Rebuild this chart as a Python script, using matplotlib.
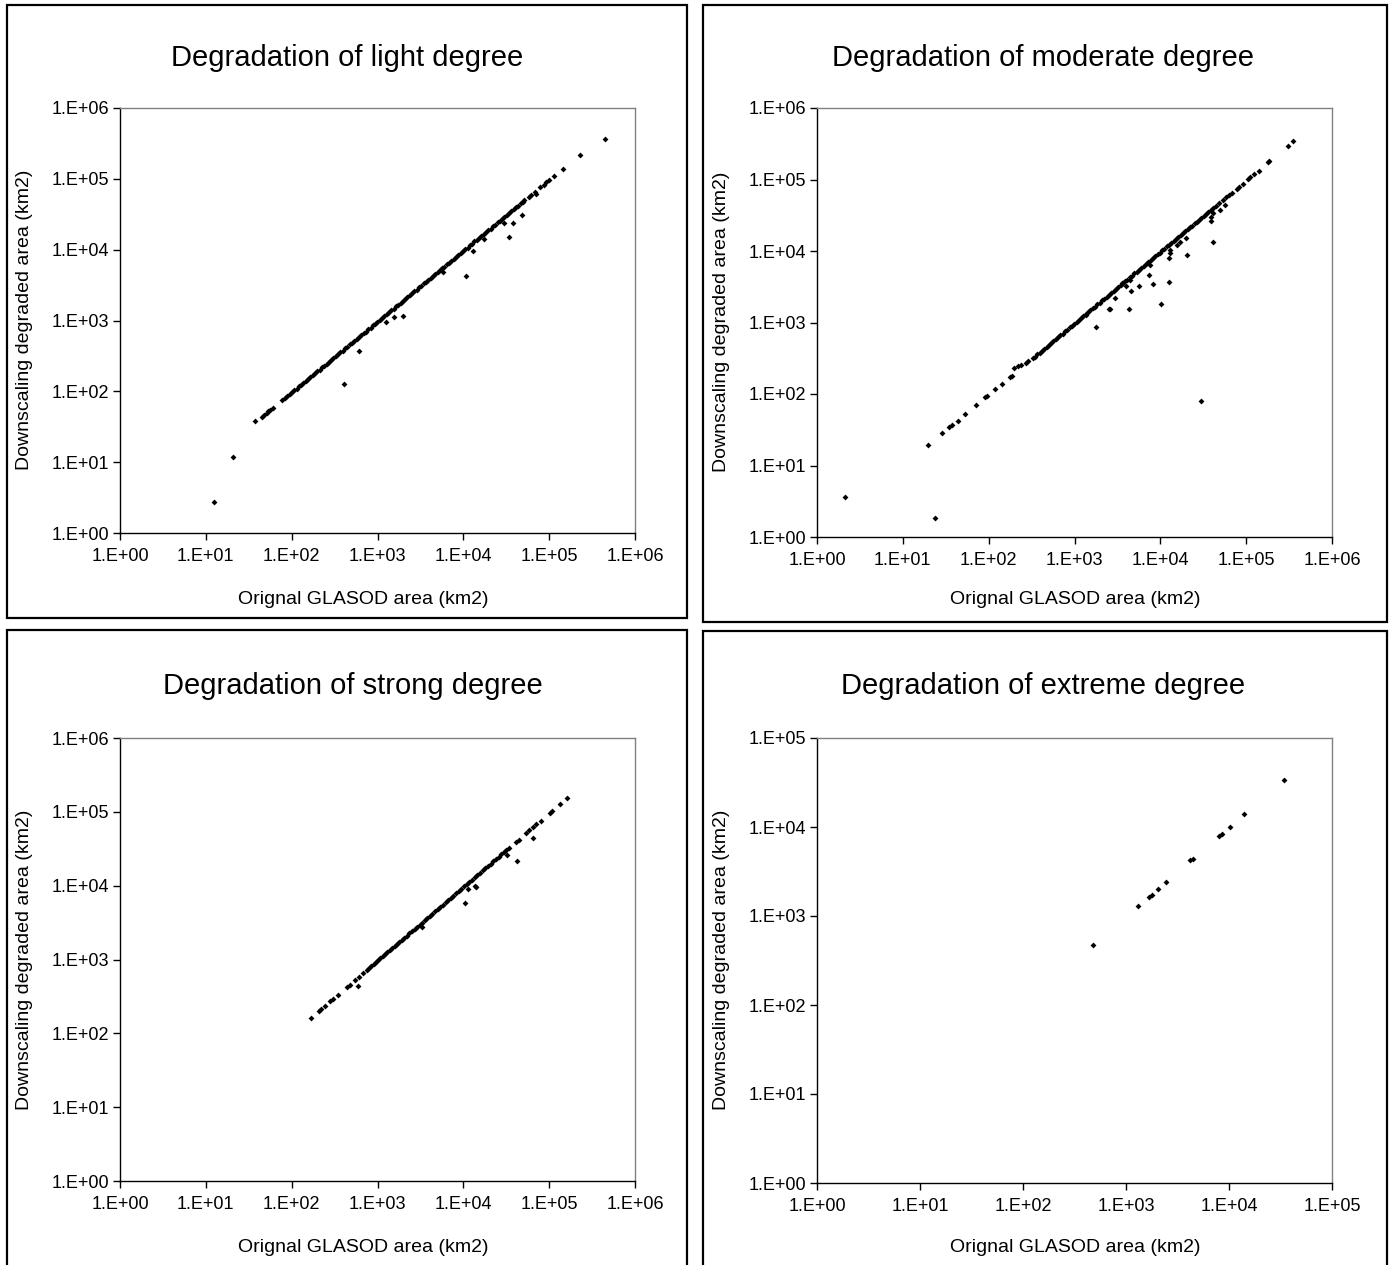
import math
import matplotlib
matplotlib.use("Agg")
import matplotlib.pyplot as plt
from matplotlib.patches import Rectangle
from matplotlib.ticker import FixedLocator, FuncFormatter, NullLocator

plt.rcParams['font.family'] = ['Liberation Sans', 'DejaVu Sans']

# ---- light degree ----
light_line_x = [78, 84, 89, 95, 101, 107, 114, 121, 129, 137,
                146, 155, 165, 176, 187, 199, 212, 225, 240, 255,
                271, 289, 307, 327, 348, 370, 394, 419, 446, 474,
                505, 537, 571, 608, 647, 688, 732, 779, 829, 882,
                938, 998, 1062, 1130, 1202, 1279, 1361, 1448, 1540, 1639,
                1744, 1855, 1974, 2100, 2234, 2377, 2529, 2691, 2863, 3046,
                3241, 3448, 3668, 3903, 4152, 4418, 4700, 5001, 5320, 5660,
                6022, 6407, 6817, 7253, 7717, 8210, 8735, 9293, 9887, 10520,
                11190, 11910, 12670, 13480, 14340, 15260, 16230, 17270, 18380, 19550,
                20800, 22130, 23550, 25050, 26650, 28360, 30170, 32100, 34150, 36330,
                38660, 41130, 43760, 46550, 49530]
light_line_y = [76, 80, 87, 92, 97, 104, 109, 118, 123, 133,
                140, 150, 158, 171, 179, 193, 203, 218, 229, 247,
                259, 280, 294, 316, 333, 358, 376, 406, 426, 459,
                482, 520, 546, 588, 618, 665, 699, 755, 792, 853,
                897, 966, 1015, 1094, 1149, 1238, 1301, 1401, 1472, 1587,
                1667, 1795, 1887, 2031, 2135, 2301, 2418, 2604, 2737, 2948,
                3098, 3337, 3506, 3777, 3969, 4276, 4493, 4840, 5086, 5478,
                5757, 6201, 6517, 7020, 7377, 7946, 8351, 8995, 9452, 10180,
                10700, 11530, 12110, 13050, 13710, 14770, 15520, 16720, 17570, 18920,
                19890, 21420, 22510, 24250, 25480, 27450, 28840, 31070, 32650, 35160,
                36960, 39800, 41830, 45060, 47350]
light_sparse_x = [12.3, 21, 37, 45, 48, 51, 53, 56, 60,
                  51100, 57900, 61900, 68100, 78700, 86600, 92600, 100000, 113000,
                  144000, 228000, 451000]
light_sparse_y = [2.75, 11.9, 38, 44, 47, 50, 52, 55, 59,
                  49800, 55800, 59800, 65500, 75600, 83000, 89000, 96000, 108000,
                  139000, 219000, 365000]
light_out_x = [402, 607, 1247, 1570, 1977, 5790, 10600, 12960, 17600, 30100,
               33800, 37900, 47800, 69400]
light_out_y = [125, 374, 942, 1120, 1169, 4900, 4250, 9600, 14200, 24100,
               15300, 24100, 30600, 60100]

# ---- moderate degree ----
mod_line_x = [325, 346, 368, 392, 417, 444, 472, 502, 534, 568,
              605, 643, 685, 728, 775, 825, 877, 934, 993, 1057,
              1125, 1197, 1273, 1355, 1442, 1534, 1632, 1737, 1848, 1966,
              2092, 2226, 2369, 2520, 2682, 2853, 3036, 3230, 3437, 3657,
              3891, 4140, 4405, 4687, 4987, 5306, 5646, 6007, 6392, 6801,
              7236, 7699, 8192, 8716, 9274, 9868, 10500, 11170, 11890, 12650,
              13460, 14320, 15240, 16210, 17250, 18350, 19530, 20780, 22110, 23520,
              25030, 26630, 28330, 30150, 32070, 34130, 36310, 38640, 41100]
mod_line_y = [316, 333, 358, 377, 405, 427, 459, 483, 519, 547,
              588, 619, 666, 701, 753, 794, 853, 899, 965, 1017,
              1094, 1152, 1238, 1304, 1402, 1476, 1587, 1672, 1797, 1892,
              2034, 2142, 2303, 2425, 2608, 2746, 2952, 3108, 3342, 3519,
              3783, 3984, 4283, 4510, 4849, 5106, 5489, 5781, 6214, 6545,
              7035, 7409, 7965, 8388, 9016, 9496, 10210, 10750, 11560, 12170,
              13090, 13780, 14820, 15600, 16770, 17660, 18990, 20000, 21500, 22630,
              24340, 25620, 27540, 29010, 31180, 32840, 35300, 37180, 39960]
mod_sparse_x = [19.8, 28.7, 34.8, 36.9, 43.8, 53.1, 71.5, 90, 94.4, 119,
                143, 178, 185, 222, 237, 269, 287,
                44200, 48700, 53600, 59000, 63700, 68100, 77200, 82600, 90800,
                105000, 112000, 125000, 140000, 181000, 183000, 307000, 348000]
mod_sparse_y = [19.2, 28.1, 34.9, 36.4, 41.9, 53.2, 70.5, 89.4, 93.3, 116,
                139, 173, 180, 245, 253, 273, 285,
                43000, 46800, 51000, 56600, 61000, 65000, 73500, 77600, 87500,
                101000, 108000, 120000, 133000, 175000, 180000, 296000, 345000]
mod_out_x = [2.1, 23.9, 196, 1370, 1780, 2490, 2610, 2960, 3580, 3940,
             4300, 4420, 4600, 5620, 7290, 7500, 8260, 10300, 12500, 12500,
             13100, 13100, 15700, 16900, 19800, 20500, 29900, 39000, 39000, 40600,
             41400, 49200, 57300]
mod_out_y = [3.67, 1.87, 232, 1270, 869, 1540, 1540, 2200, 3590, 3290,
             1540, 3870, 2770, 3190, 4650, 6300, 3470, 1830, 8000, 3670,
             10300, 9500, 12100, 13200, 15300, 8710, 80, 30300, 26300, 13200,
             33700, 37600, 44200]

# ---- strong degree ----
strong_x = [167, 208, 222, 244, 282, 304, 348, 446, 477, 551,
            606, 686, 760, 805, 850, 905, 960, 1015, 1080, 1150,
            1220, 1300, 1390, 1480, 1580, 1690, 1800, 1930, 2060, 2200,
            2350, 2520, 2700, 2890, 3090, 3310, 3550, 3800, 4080, 4370,
            4690, 5030, 5400, 5790, 6210, 6660, 7150, 7670, 8230, 8830,
            9480, 10180, 10930, 11740, 12600, 13530, 14530, 15600, 16750, 17990,
            19320, 20750, 22280, 23930, 25700, 27600, 29640, 31830, 34180,
            41500, 44000, 54200, 58500, 65600, 70800, 79500, 101000, 108000,
            134000, 160000]
strong_y = [160, 200, 214, 233, 271, 290, 334, 425, 458, 527,
            582, 656, 730, 770, 817, 866, 922, 972, 1037, 1100,
            1172, 1244, 1335, 1418, 1517, 1618, 1728, 1849, 1978, 2106,
            2256, 2414, 2592, 2768, 2966, 3170, 3408, 3640, 3917, 4186,
            4502, 4818, 5184, 5546, 5962, 6380, 6864, 7347, 7901, 8459,
            9101, 9752, 10490, 11250, 12100, 12960, 13950, 14940, 16080, 17230,
            18550, 19880, 21390, 22920, 24670, 26440, 28450, 30490, 32810,
            39600, 42100, 51700, 55900, 62600, 67600, 75900, 96400, 103000,
            128000, 153000]
strong_out_x = [594, 3320, 10400, 11200, 13500, 14200, 32600, 42600, 64300]
strong_out_y = [438, 2720, 5740, 9140, 9840, 9640, 26400, 21400, 44300]

# ---- extreme degree ----
ext_x = [475, 1310, 1680, 1790, 2030, 2460, 4200, 4480, 7960, 8490, 10200, 14100, 34300]
ext_y = [475, 1290, 1630, 1740, 2020, 2440, 4210, 4360, 7910, 8270, 10000, 14100, 33600]

W, H = 1392, 1265
fig = plt.figure(figsize=(W / 100, H / 100), dpi=100)


def px_rect(l, t, r, b):
    return [l / W, 1 - b / H, (r - l) / W, (b - t) / H]


# outer chart frames
for l, t, r, b in [(7, 5, 687, 618), (703, 5, 1387, 622),
                   (7, 630, 687, 1275), (703, 631, 1387, 1275)]:
    fig.patches.append(Rectangle((l / W, 1 - b / H), (r - l) / W, (b - t) / H,
                                 transform=fig.transFigure, fill=False,
                                 edgecolor='black', linewidth=1.6))

panels = [
    ("Degradation of light degree", (120, 108, 635, 533), 6,
     [(light_line_x, light_line_y), (light_sparse_x, light_sparse_y), (light_out_x, light_out_y)],
     (347, 58), (25, 320), (363, 600)),
    ("Degradation of moderate degree", (817, 108, 1332, 537), 6,
     [(mod_line_x, mod_line_y), (mod_sparse_x, mod_sparse_y), (mod_out_x, mod_out_y)],
     (1043, 58), (722, 322), (1075, 600)),
    ("Degradation of strong degree", (120, 738, 635, 1181), 6,
     [(strong_x, strong_y), (strong_out_x, strong_out_y)],
     (353, 686), (25, 960), (363, 1248)),
    ("Degradation of extreme degree", (817, 738, 1332, 1183), 5,
     [(ext_x, ext_y)],
     (1043, 686), (722, 960), (1075, 1248)),
]

fmt = FuncFormatter(lambda v, p: "1.E+%02d" % round(math.log10(v)))

for title, box, ndec, series, tpos, ypos, xpos in panels:
    ax = fig.add_axes(px_rect(*box))
    for xs, ys in series:
        ax.plot(xs, ys, linestyle='none', marker='D', markersize=3.0,
                color='black', markeredgewidth=0)
    ax.set_xscale('log')
    ax.set_yscale('log')
    ax.set_xlim(1, 10 ** ndec)
    ax.set_ylim(1, 10 ** ndec)
    decades = [10 ** k for k in range(ndec + 1)]
    for axis in (ax.xaxis, ax.yaxis):
        axis.set_major_locator(FixedLocator(decades))
        axis.set_minor_locator(NullLocator())
        axis.set_major_formatter(fmt)
    ax.tick_params(direction='out', length=5, width=1, labelsize=13, pad=3,
                   color='black')
    ax.tick_params(axis='x', pad=6)
    ax.spines['left'].set_color('black')
    ax.spines['bottom'].set_color('black')
    ax.spines['top'].set_color('#808080')
    ax.spines['right'].set_color('#808080')
    for s in ax.spines.values():
        s.set_linewidth(1.0)
    fig.text(tpos[0] / W, 1 - tpos[1] / H, title, fontsize=21,
             ha='center', va='center')
    fig.text(ypos[0] / W, 1 - ypos[1] / H, "Downscaling degraded area (km2)",
             fontsize=14, rotation=90, ha='center', va='center')
    fig.text(xpos[0] / W, 1 - xpos[1] / H, "Orignal GLASOD area (km2)",
             fontsize=14, ha='center', va='center')

fig.savefig("out.png", dpi=100, facecolor='white')
